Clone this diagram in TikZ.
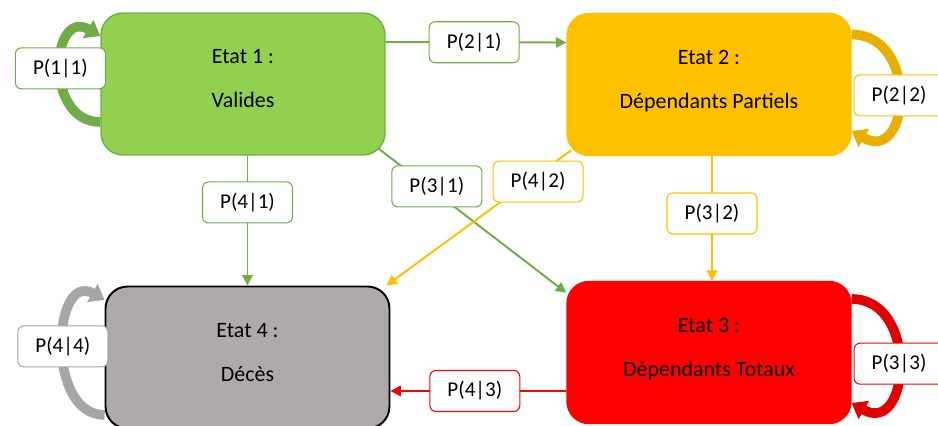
\documentclass[tikz,border=0pt]{standalone}
\usepackage{fontspec}
\setmainfont{Carlito}
\usetikzlibrary{arrows.meta}
\definecolor{vert}{HTML}{92D050}
\definecolor{vertf}{HTML}{70AD47}
\definecolor{jaune}{HTML}{FFC000}
\definecolor{jaunef}{HTML}{E8AE00}
\definecolor{rouge}{HTML}{FF0000}
\definecolor{rougef}{HTML}{E00000}
\definecolor{gris}{HTML}{AEAAAA}
\definecolor{grisf}{HTML}{A6A6A6}

\begin{document}
\begin{tikzpicture}[x=0.02cm, y=0.02cm,
    etat/.style={draw, rounded corners=0.44cm, minimum width=5.68cm, minimum height=2.84cm, align=center, font=\fontsize{12.5}{15}\selectfont, line width=0.8pt},
    lab/.style={draw, fill=white, rounded corners=0.12cm, minimum width=1.8cm, minimum height=0.82cm, font=\fontsize{12}{14}\selectfont, line width=0.6pt, text=black},
    fleche/.style={line width=1.1pt, -{Triangle[length=6pt,width=6pt]}},
    boucle/.style={line width=5.5pt, -{Triangle[length=8pt,width=11.5pt]}}]
            \useasboundingbox (0,0) rectangle (938,426);
            % Etats
            \node[etat, fill=vert, draw=vertf] (e1) at (243,342) {Etat 1 :\\[10pt]Valides\\[-9pt]\mbox{}};
            \node[etat, fill=jaune, draw=jaune] (e2) at (709,341.5) {Etat 2 :\\[10pt]Dépendants Partiels\\[-9pt]\mbox{}};
            \node[etat, fill=rouge, draw=rouge] (e3) at (709,73.5) {Etat 3 :\\[10pt]Dépendants Totaux\\[-9pt]\mbox{}};
            \node[etat, fill=gris, draw=black, line width=1.1pt] (e4) at (247.5,68.5) {Etat 4 :\\[10pt]Décès\\[-9pt]\mbox{}};

            % Boucles
            \draw[boucle, vertf] ([yshift=-0.76cm]e1.west) to[out=180, in=150, looseness=1.7] node[lab, draw=vertf] (l11) {P(1|1)} ([yshift=0.96cm]e1.west);
            \draw[boucle, jaunef] ([yshift=1.0cm]e2.east) to[out=0, in=-30, looseness=1.8] node[lab, draw=jaune] (l22) {P(2|2)} ([yshift=-0.93cm]e2.east);
            \draw[boucle, rougef] ([yshift=1.07cm]e3.east) to[out=0, in=-30, looseness=1.67] node[lab, draw=rouge] (l33) {P(3|3)} ([yshift=-1.01cm]e3.east);
            \draw[boucle, grisf] ([yshift=-1.15cm]e4.west) to[out=180, in=150, looseness=1.33] node[lab, draw=grisf] (l44) {P(4|4)} ([yshift=1.15cm]e4.west);

            % Transitions
            \draw[fleche, vertf] ([yshift=0.84cm]e1.east) -- node[lab, draw=vertf, pos=0.49] (l21) {P(2|1)} ([yshift=0.84cm]e2.west);
            \draw[fleche, vertf] (e1.south -| e4.north) -- node[lab, draw=vertf, pos=0.36] (l41) {P(4|1)} (e4.north);
            \draw[fleche, vertf] ([shift={(-0.14cm,0.14cm)}]e1.south east) -- node[lab, draw=vertf, pos=0.31, yshift=0.14cm] (l31) {P(3|1)} ([yshift=-0.24cm]e3.north west);
            \draw[fleche, jaune] ([shift={(0.1cm,0.12cm)}]e2.south west) -- node[lab, draw=jaune, pos=0.18, yshift=-0.14cm] (l42) {P(4|2)} ([xshift=-0.08cm]e4.north east);
            \draw[fleche, jaune] ([xshift=0.06cm]e2.south) -- node[lab, draw=jaune, pos=0.46] (l32) {P(3|2)} ([xshift=0.06cm]e3.north);
            \draw[fleche, rouge] ([yshift=-0.77cm]e3.west) -- node[lab, draw=rouge, pos=0.52] (l43) {P(4|3)} ([yshift=-0.67cm]e4.east);
          \end{tikzpicture}
\end{document}
